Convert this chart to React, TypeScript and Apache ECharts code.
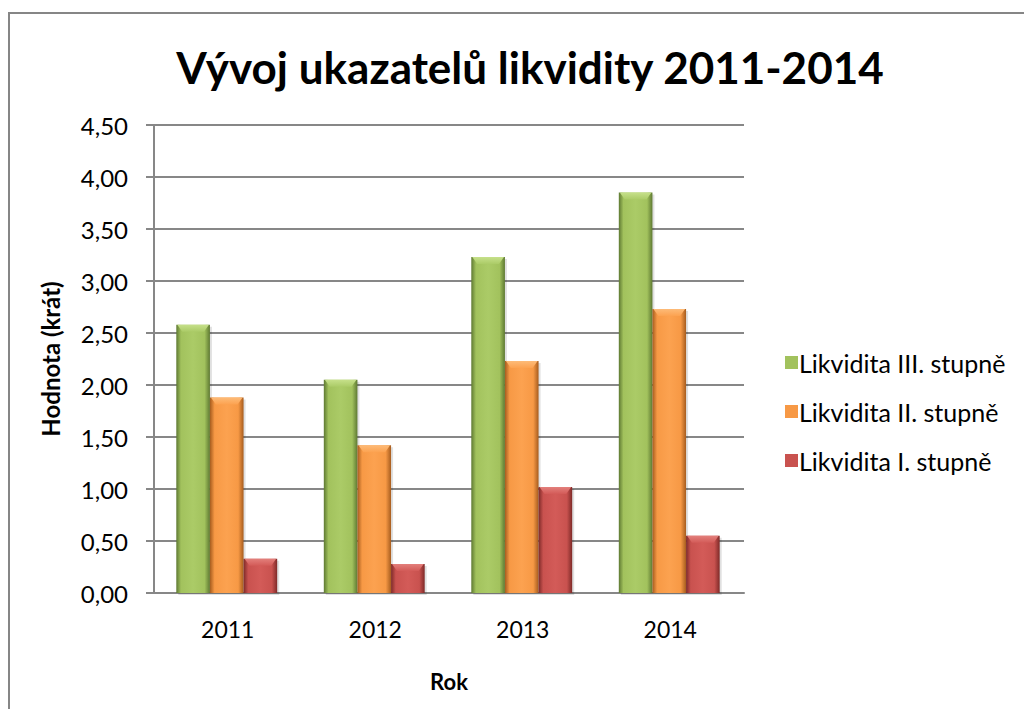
import React, { useEffect, useRef } from "react";
import * as echarts from "echarts";

const years = ["2011", "2012", "2013", "2014"];
const seriesNames = ["Likvidita III. stupně", "Likvidita II. stupně", "Likvidita I. stupně"];
const likviditaIII = [2.58, 2.05, 3.23, 3.85];
const likviditaII = [1.88, 1.42, 2.23, 2.73];
const likviditaI = [0.33, 0.28, 1.02, 0.55];
const yTicks = [0, 0.5, 1, 1.5, 2, 2.5, 3, 3.5, 4, 4.5];

const palettes = [
  { base: "#A2C25D", light: "#ABCB67", dark: "#5E7932", bevel: "#C6E08A" },
  { base: "#F79945", light: "#FCA250", dark: "#A65C1E", bevel: "#FDBB78" },
  { base: "#C9524F", light: "#D35B58", dark: "#7E2A28", bevel: "#E3807C" },
];

const FONT = "Lato, 'Open Sans', sans-serif";

function makeRender(si: number) {
  const p = palettes[si];
  return (params: any, api: any) => {
    const idx = api.value(0);
    const val = api.value(1);
    const base = api.coord([idx, 0]);
    const top = api.coord([idx, val]);
    const band = api.size([1, 0])[0];
    const bw = band * 0.228;
    const x0 = base[0] + (si - 1.5) * bw - 1;
    const y0 = top[1];
    const h = base[1] - top[1];
    const bev = Math.min(7, h / 2);
    const grad = new echarts.graphic.LinearGradient(0, 0, 1, 0, [
      { offset: 0, color: p.dark },
      { offset: 0.14, color: p.base },
      { offset: 0.5, color: p.light },
      { offset: 0.84, color: p.base },
      { offset: 1, color: p.dark },
    ]);
    const bevGrad = new echarts.graphic.LinearGradient(0, 0, 0, 1, [
      { offset: 0, color: p.bevel },
      { offset: 1, color: p.light },
    ]);
    return {
      type: "group",
      children: [
        {
          type: "rect",
          shape: { x: x0 + 2, y: y0 + 2, width: bw, height: h },
          style: { fill: "rgba(0,0,0,0.12)" },
        },
        {
          type: "rect",
          shape: { x: x0, y: y0, width: bw, height: h },
          style: { fill: grad },
        },
        {
          type: "polygon",
          shape: {
            points: [
              [x0 + 1, y0],
              [x0 + bw - 1, y0],
              [x0 + bw - 6, y0 + bev],
              [x0 + 6, y0 + bev],
            ],
          },
          style: { fill: bevGrad },
        },
      ],
    };
  };
}

export default function App() {
  const ref = useRef<HTMLDivElement>(null);
  useEffect(() => {
    if (!ref.current) return;
    const chart = echarts.init(ref.current, undefined, { renderer: "svg" });
    const allData = [likviditaIII, likviditaII, likviditaI];
    chart.setOption({
      animation: false,
      backgroundColor: "#ffffff",
      title: {
        text: "Vývoj ukazatelů likvidity 2011-2014",
        left: 525,
        textAlign: "center",
        top: 40,
        textStyle: { fontFamily: FONT, fontWeight: "bold", fontSize: 44, color: "#000" },
      },
      legend: {
        orient: "vertical",
        left: 780,
        top: 345,
        itemWidth: 13,
        itemHeight: 13,
        itemGap: 24,
        icon: "rect",
        textStyle: { fontFamily: FONT, fontSize: 25, color: "#000", padding: [0, 0, 0, -4] },
        data: seriesNames,
      },
      grid: { left: 154, right: 280, top: 125, bottom: 116 },
      xAxis: {
        type: "category",
        data: years,
        name: "Rok",
        nameLocation: "middle",
        nameGap: 77,
        nameTextStyle: { fontFamily: FONT, fontWeight: "bold", fontSize: 22, color: "#000" },
        axisLine: { lineStyle: { color: "#878787", width: 2 } },
        axisTick: { show: false },
        axisLabel: { fontFamily: FONT, fontSize: 23, color: "#000", margin: 24 },
      },
      yAxis: {
        type: "value",
        min: yTicks[0],
        max: yTicks[yTicks.length - 1],
        interval: 0.5,
        name: "Hodnota (krát)",
        nameLocation: "middle",
        nameGap: 92,
        nameRotate: 90,
        nameTextStyle: { fontFamily: FONT, fontWeight: "bold", fontSize: 24, color: "#000" },
        axisLine: { show: true, lineStyle: { color: "#878787", width: 2 } },
        axisTick: { show: true, length: 8, lineStyle: { color: "#878787", width: 2 } },
        splitLine: { lineStyle: { color: "#878787", width: 2 } },
        axisLabel: {
          fontFamily: FONT,
          fontSize: 24,
          color: "#000",
          margin: 26,
          formatter: (v: number) => v.toFixed(2).replace(".", ","),
        },
      },
      graphic: [
        {
          type: "rect",
          shape: { x: 9, y: 13, width: 1040, height: 720 },
          style: { fill: "none", stroke: "#868686", lineWidth: 2 },
          silent: true,
          z: -1,
        },
      ],
      series: seriesNames.map((name, si) => ({
        type: "custom",
        name,
        itemStyle: { color: palettes[si].base },
        renderItem: makeRender(si),
        encode: { x: 0, y: 1 },
        data: allData[si].map((v, i) => [i, v]),
      })),
    });
    return () => chart.dispose();
  }, []);
  return (
    <div
      ref={ref}
      style={{ position: "fixed", left: 0, top: 0, width: 1024, height: 709 }}
    />
  );
}
